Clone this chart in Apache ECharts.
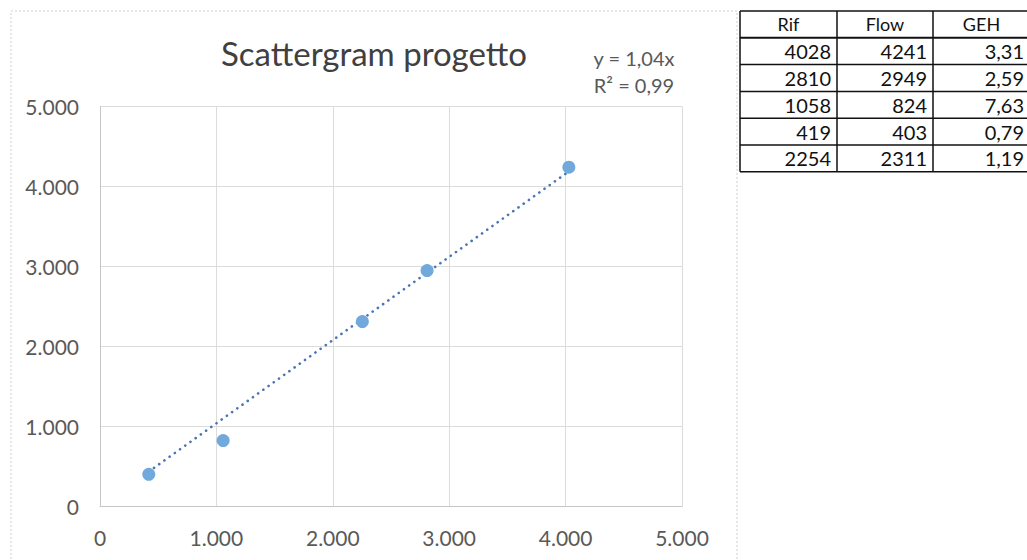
<!DOCTYPE html>
<html><head><meta charset="utf-8">
<script src="https://cdn.jsdelivr.net/npm/echarts@6/dist/echarts.min.js"></script>
<style>html,body{margin:0;padding:0;background:#fff}#c{width:1027px;height:560px}</style>
</head><body><div id="c"></div>
<script>
// ---- data ----
const rif = [4028, 2810, 1058, 419, 2254];
const flow = [4241, 2949, 824, 403, 2311];
const geh = [3.31, 2.59, 7.63, 0.79, 1.19];
const tableHeaders = ['Rif', 'Flow', 'GEH'];
const axisTicks = [0, 1000, 2000, 3000, 4000, 5000];
const trendX = [419, 4028];
const trendY = [436, 4189];
const chartTitle = 'Scattergram progetto';
const equationLines = ['y = 1,04x', 'R² = 0,99'];

// ---- helpers ----
const fmtThousands = n => String(n).replace(/\B(?=(\d{3})+(?!\d))/g, '.');
const fmtDec = n => n.toFixed(2).replace('.', ',');
const FONT = 'Lato, "Noto Sans", sans-serif';

const points = rif.map((r, i) => [r, flow[i]]);
const trend = trendX.map((x, i) => [x, trendY[i]]);

// ---- table graphics ----
const tLeft = 740, tTop = 11, rowH = 26.8;
const colX = [740, 837, 933, 1030];
const nRows = rif.length + 1;
const tBottom = tTop + nRows * rowH;
const tableEls = [];
for (let r = 0; r <= nRows; r++) {
  const y = tTop + r * rowH;
  tableEls.push({type: 'line', shape: {x1: tLeft, y1: y, x2: 1030, y2: y},
    style: {stroke: '#111', lineWidth: r === 1 ? 2 : 1.5}, silent: true});
}
for (let c = 0; c < colX.length; c++) {
  tableEls.push({type: 'line', shape: {x1: colX[c], y1: tTop, x2: colX[c], y2: tBottom},
    style: {stroke: '#111', lineWidth: 1.5}, silent: true});
}
tableHeaders.forEach((h, c) => {
  tableEls.push({type: 'text', x: (colX[c] + colX[c + 1]) / 2, y: tTop + rowH / 2,
    style: {text: h, font: '18px ' + FONT, fill: '#111', textAlign: 'center', textVerticalAlign: 'middle', align: 'center', verticalAlign: 'middle'}});
});
rif.forEach((v, i) => {
  const cells = [String(v), String(flow[i]), fmtDec(geh[i])];
  const y = tTop + (i + 1) * rowH + rowH / 2;
  cells.forEach((t, c) => {
    tableEls.push({type: 'text', x: colX[c + 1] - 6, y: y,
      style: {text: t, font: '20px ' + FONT, fill: '#111', textAlign: 'right', textVerticalAlign: 'middle', align: 'right', verticalAlign: 'middle'}});
  });
});

const chart = echarts.init(document.getElementById('c'), null, {renderer: 'svg'});
chart.setOption({
  animation: false,
  backgroundColor: '#fff',
  grid: {left: 100, right: 345, top: 106.5, bottom: 53.5},
  xAxis: {
    type: 'value', min: axisTicks[0], max: axisTicks[axisTicks.length - 1], interval: axisTicks[1] - axisTicks[0],
    axisLine: {show: true, lineStyle: {color: '#c6c6c6', width: 1}},
    axisTick: {show: false},
    splitLine: {show: true, lineStyle: {color: '#dcdcdc', width: 1}},
    axisLabel: {formatter: fmtThousands, color: '#595959', fontSize: 21, fontFamily: FONT, margin: 20}
  },
  yAxis: {
    type: 'value', min: axisTicks[0], max: axisTicks[axisTicks.length - 1], interval: axisTicks[1] - axisTicks[0],
    axisLine: {show: true, lineStyle: {color: '#c6c6c6', width: 1}},
    axisTick: {show: false},
    splitLine: {show: true, lineStyle: {color: '#dcdcdc', width: 1}},
    axisLabel: {formatter: fmtThousands, color: '#595959', fontSize: 21, fontFamily: FONT, margin: 21}
  },
  series: [
    {
      type: 'line', data: trend, symbol: 'none', silent: true, z: 2,
      lineStyle: {color: '#4a74b4', width: 2.6, type: [0.1, 6.3], cap: 'round'}
    },
    {
      type: 'scatter', data: points, symbolSize: 13, z: 3,
      itemStyle: {color: '#72a9dd', opacity: 1}
    }
  ],
  graphic: [
    {type: 'rect', shape: {x: 11, y: 11, width: 726, height: 560}, silent: true,
      style: {fill: 'none', stroke: '#cfcfcf', lineWidth: 1, lineDash: [2, 2]}},
    {type: 'text', x: 374, y: 53,
      style: {text: chartTitle, font: '33px ' + FONT, fill: '#404040', textAlign: 'center', textVerticalAlign: 'middle', align: 'center', verticalAlign: 'middle'}},
    {type: 'text', x: 634, y: 58,
      style: {text: equationLines[0], font: '20px ' + FONT, fill: '#595959', textAlign: 'center', textVerticalAlign: 'middle', align: 'center', verticalAlign: 'middle'}},
    {type: 'text', x: 634, y: 85,
      style: {text: equationLines[1], font: '20px ' + FONT, fill: '#595959', textAlign: 'center', textVerticalAlign: 'middle', align: 'center', verticalAlign: 'middle'}},
    ...tableEls
  ]
});
</script>
</body></html>
